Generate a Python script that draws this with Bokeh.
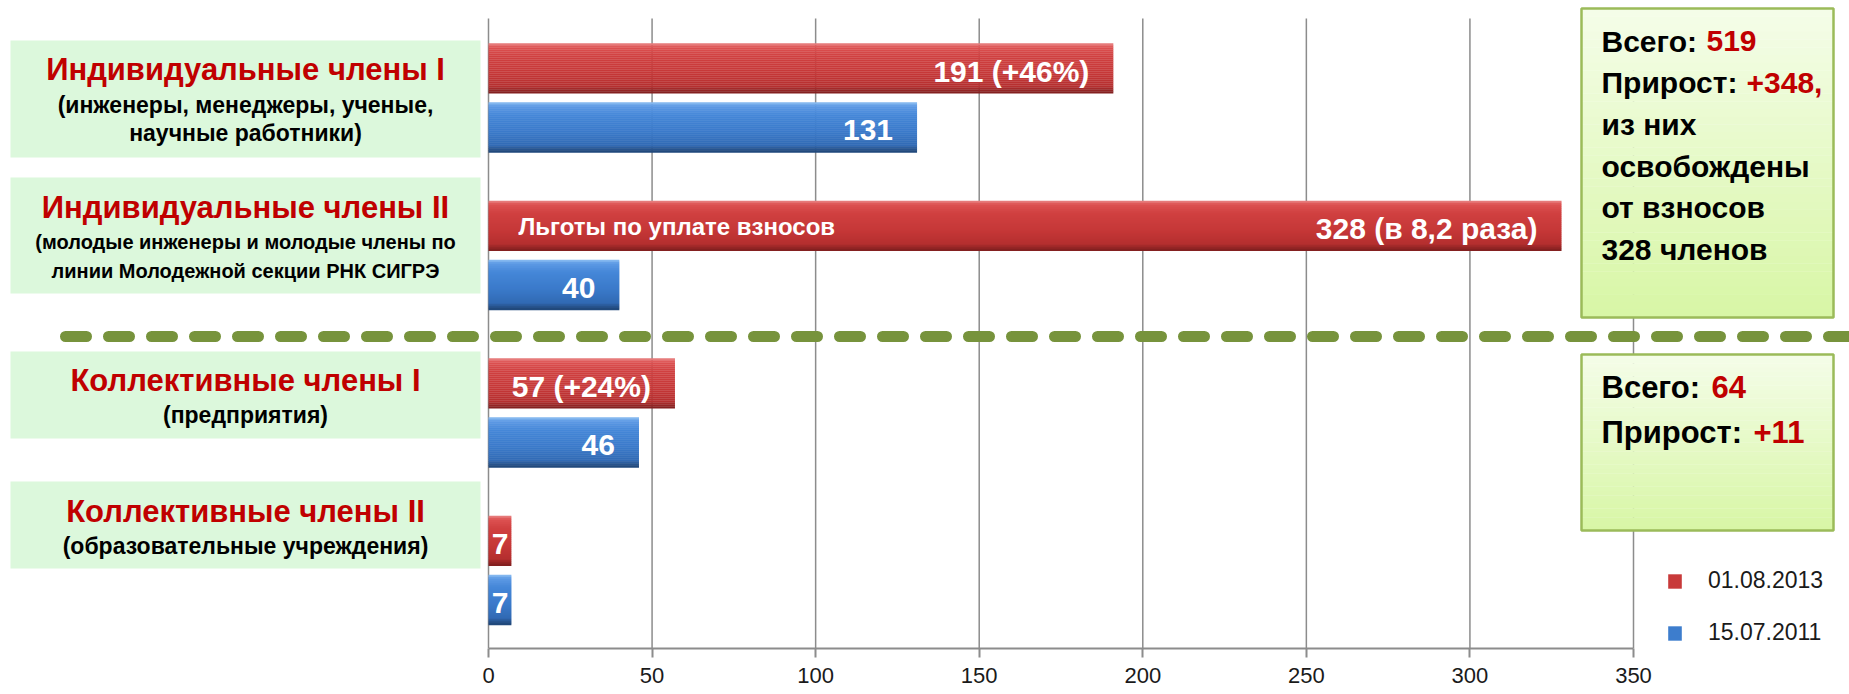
from bokeh.plotting import figure
from bokeh.models import Range1d, LinearAxis, FixedTicker, ColumnDataSource, Legend, LegendItem
from bokeh.core.properties import value
from bokeh.embed import file_html
from bokeh.resources import INLINE

# ---------------- data ----------------
titles = ["Индивидуальные члены I", "Индивидуальные члены II",
          "Коллективные члены I", "Коллективные члены II"]
subtitles = [["(инженеры, менеджеры, ученые,", "научные работники)"],
             ["(молодые инженеры и молодые члены по", "линии Молодежной секции РНК СИГРЭ"],
             ["(предприятия)"],
             ["(образовательные учреждения)"]]
series_names = ["01.08.2013", "15.07.2011"]
values_2013 = [191, 328, 57, 7]
values_2011 = [131, 40, 46, 7]
labels_2013 = ["191 (+46%)", "328 (в 8,2 раза)", "57 (+24%)", "7"]
labels_2011 = ["131", "40", "46", "7"]
note_text = "Льготы по уплате взносов"
x_ticks = [0, 50, 100, 150, 200, 250, 300, 350]
summary_ind_black = ["Всего:", "Прирост:", "из них", "освобождены", "от взносов", "328 членов"]
summary_ind_red = ["519", "+348,"]
summary_col_black = ["Всего:", "Прирост:"]
summary_col_red = ["64", "+11"]

# ---------------- layout helpers (reference pixel -> data) ----------------
W, H = 1849, 694
X0_PX, X350_PX = 488.0, 1633.0
K = (X350_PX - X0_PX) / 350.0
AXIS_PX, GROUP_PX = 648.0, 157.5


def fx(px):
    return (px - X0_PX) / K


def fy(py):
    return (AXIS_PX - py) / GROUP_PX


FONT = "Liberation Sans"
RED_TXT = "#C00000"

p = figure(width=W, height=H, output_backend="svg", toolbar_location=None,
           x_axis_type=None, y_axis_type=None,
           min_border_left=0, min_border_right=0, min_border_top=0,
           min_border_bottom=int(H - AXIS_PX),
           x_range=Range1d(fx(0), fx(W)), y_range=Range1d(0, fy(0)))
p.outline_line_color = None
p.background_fill_color = "white"
p.border_fill_color = "white"

# ---------------- left category boxes ----------------
box_px = [(40, 157), (177, 293), (351, 438), (481, 568)]
p.quad(left=fx(10), right=fx(480), top=[fy(t) for t, b in box_px],
       bottom=[fy(b) for t, b in box_px], fill_color="#DCF8DC", line_color=None)

title_c = [69, 207, 380, 511]
sub_c = [[104, 132], [241.5, 270], [414.5], [545.5]]
sub_size = [23, 20, 23, 23]
p.text(x=[fx(245)] * 4, y=[fy(v) for v in title_c], text=titles,
       text_font=value(FONT), text_font_style="bold", text_font_size="31px",
       text_color=RED_TXT, text_align="center", text_baseline="middle")
for i in range(len(titles)):
    p.text(x=[fx(245)] * len(subtitles[i]), y=[fy(v) for v in sub_c[i]],
           text=subtitles[i], text_font=value(FONT), text_font_style="bold",
           text_font_size="%dpx" % sub_size[i], text_color="black", text_align="center",
           text_baseline="middle")

# ---------------- grid lines ----------------
n = len(x_ticks)
p.segment(x0=x_ticks, x1=x_ticks, y0=[0] * n, y1=[fy(18)] * n,
          line_color="#8C8C8C", line_width=1.5)

# ---------------- bars (gel look by stacked colour bands) ----------------
centers = [len(titles) - 0.5 - i for i in range(len(titles))]
red_y = [c + 0.183 for c in centers]
blue_y = [c - 0.192 for c in centers]
BAR_PX = 50.0

red_stops = [(0.0, "#EA8A8A"), (0.07, "#DD5252"), (0.25, "#D04040"), (0.6, "#C53737"),
             (0.86, "#B52F2F"), (0.93, "#982626"), (1.0, "#7C1E1E")]
blue_stops = [(0.0, "#92C3F3"), (0.07, "#5E9AE5"), (0.25, "#4587D8"), (0.6, "#3A79C9"),
              (0.86, "#316AB4"), (0.93, "#285591"), (1.0, "#1E4473")]


def hexrgb(h):
    return tuple(int(h[i:i + 2], 16) for i in (1, 3, 5))


def interp(stops, f):
    for (f0, c0), (f1, c1) in zip(stops[:-1], stops[1:]):
        if f0 <= f <= f1:
            t = (f - f0) / (f1 - f0) if f1 > f0 else 0
            a, b = hexrgb(c0), hexrgb(c1)
            return "#%02x%02x%02x" % tuple(int(round(a[k] + (b[k] - a[k]) * t)) for k in range(3))
    return stops[-1][1]


def gel_bars(vals, ys, stops, nb=25):
    band = BAR_PX / nb
    main = None
    for j in range(nb):
        cy_px = j * band + band / 2
        col = interp(stops, cy_px / BAR_PX)
        shift = (BAR_PX / 2 - cy_px) / GROUP_PX
        r = p.hbar(y=[y + shift for y in ys], right=vals, left=0,
                   height=(band + 0.3) / GROUP_PX, fill_color=col, line_color=None)
        if j == nb // 2:
            main = r
    return main


red_main = gel_bars(values_2013, red_y, red_stops)
blue_main = gel_bars(values_2011, blue_y, blue_stops)

LBL_DROP = 3.0 / GROUP_PX


def bar_labels(vals, ys, texts):
    offs = [-24 if v * K > 60 else -3 for v in vals]
    src = ColumnDataSource(dict(x=vals, y=[y - LBL_DROP for y in ys], t=texts, o=offs))
    p.text(x="x", y="y", text="t", x_offset="o", source=src,
           text_font=value(FONT), text_font_style="bold", text_font_size="30px",
           text_color="white", text_align="right", text_baseline="middle")


bar_labels(values_2013, red_y, labels_2013)
bar_labels(values_2011, blue_y, labels_2011)
p.text(x=[fx(518)], y=[red_y[1] - 1.0 / GROUP_PX], text=[note_text],
       text_font=value(FONT), text_font_style="bold", text_font_size="24px",
       text_color="white", text_align="left", text_baseline="middle")

# ---------------- dashed separator ----------------
p.line(x=[fx(65), fx(1900)], y=[fy(336), fy(336)], line_color="#77933C",
       line_width=11, line_dash="21 22", line_cap="round")

# ---------------- summary boxes ----------------
def grad_box(top, bottom, left=1581, right=1833, c1="#F4FDE8", c2="#D8F6A6", nb=40):
    r1, r2 = hexrgb(c1), hexrgb(c2)
    tops, bots, cols = [], [], []
    for j in range(nb):
        t = top + (bottom - top) * j / nb
        b = top + (bottom - top) * (j + 1) / nb
        f = j / (nb - 1)
        col = "#%02x%02x%02x" % tuple(int(round(r1[c] + (r2[c] - r1[c]) * f)) for c in range(3))
        tops.append(fy(t)); bots.append(fy(b) - 0.002); cols.append(col)
    p.quad(left=fx(left), right=fx(right), top=tops, bottom=bots,
           fill_color=cols, line_color=None)
    p.quad(left=fx(left), right=fx(right), top=fy(top), bottom=fy(bottom),
           fill_color=None, line_color="#9BBB59", line_width=2.5)


grad_box(8, 317)
grad_box(354, 530)

ind_c = [40.8 + 41.6 * i for i in range(len(summary_ind_black))]
kw1 = dict(text_font=value(FONT), text_font_style="bold", text_font_size="30px",
           text_align="left", text_baseline="middle")
p.text(x=[fx(1601)] * len(summary_ind_black), y=[fy(v) for v in ind_c],
       text=summary_ind_black, text_color="black", **kw1)
p.text(x=[fx(1706), fx(1746)], y=[fy(ind_c[0]), fy(ind_c[1])],
       text=summary_ind_red, text_color=RED_TXT, **kw1)
col_c = [386.5, 431.5]
kw2 = dict(kw1, text_font_size="31px")
p.text(x=[fx(1601)] * 2, y=[fy(v) for v in col_c],
       text=summary_col_black, text_color="black", **kw2)
p.text(x=[fx(1711), fx(1753)], y=[fy(v) for v in col_c],
       text=summary_col_red, text_color=RED_TXT, **kw2)

# ---------------- axis ----------------
xaxis = LinearAxis(ticker=FixedTicker(ticks=x_ticks), bounds=(0, 350))
xaxis.axis_line_color = "#8C8C8C"
xaxis.axis_line_width = 2
xaxis.major_tick_line_color = "#8C8C8C"
xaxis.major_tick_line_width = 2
xaxis.major_tick_out = 9
xaxis.major_tick_in = 0
xaxis.minor_tick_line_color = None
xaxis.major_label_standoff = 10
xaxis.major_label_text_font = FONT
xaxis.major_label_text_font_size = "22px"
xaxis.major_label_text_color = "#1a1a1a"
p.add_layout(xaxis, "below")

# ---------------- legend ----------------
legend = Legend(items=[LegendItem(label=series_names[0], renderers=[red_main]),
                       LegendItem(label=series_names[1], renderers=[blue_main])],
                location=(1666, 2), orientation="vertical",
                glyph_width=17, glyph_height=18, label_standoff=25, spacing=25,
                padding=0, margin=0, border_line_color=None, background_fill_alpha=0,
                label_text_font=FONT, label_text_font_size="23px",
                label_text_color="#1a1a1a")
p.add_layout(legend)

open("out.html", "w").write(file_html(p, INLINE))
